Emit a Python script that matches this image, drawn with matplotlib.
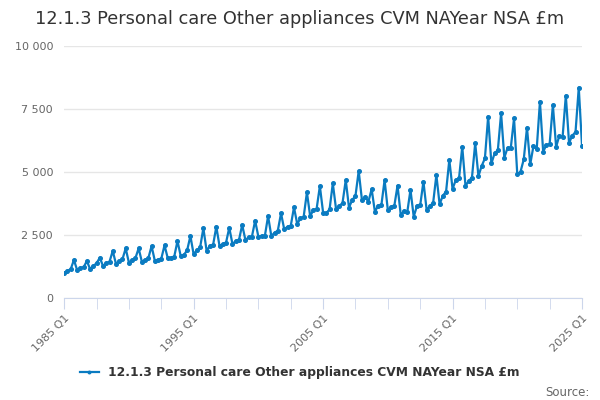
import matplotlib
matplotlib.use('Agg')
import matplotlib.pyplot as plt
from matplotlib.ticker import FuncFormatter, MultipleLocator

# quarterly values, 1985 Q1 .. 2025 Q1
q1 = [980, 1110, 1150, 1270, 1350, 1400, 1440, 1480, 1580, 1670,
      1730, 1880, 2060, 2140, 2300, 2430, 2460, 2720, 2940, 3250,
      3390, 3530, 3590, 3890, 3430, 3490, 3290, 3230, 3490, 3720,
      4330, 4450, 4840, 5340, 5570, 4910, 5300, 5810, 6000, 6160, 6050]
q2 = [1080, 1200, 1270, 1380, 1470, 1510, 1510, 1510, 1600, 1710,
      1900, 2060, 2140, 2260, 2410, 2470, 2590, 2830, 3160, 3490,
      3370, 3650, 3890, 4000, 3660, 3610, 3450, 3650, 3650, 4060,
      4680, 4640, 5240, 5740, 5960, 5010, 6030, 6070, 6440, 6440]
q3 = [1140, 1220, 1380, 1440, 1540, 1580, 1580, 1560, 1640, 1900,
      2010, 2100, 2190, 2300, 2430, 2460, 2670, 2860, 3230, 3540,
      3520, 3770, 4050, 3820, 3680, 3650, 3400, 3680, 3770, 4220,
      4750, 4780, 5540, 5870, 5960, 5500, 5900, 6110, 6380, 6590]
q4 = [1510, 1470, 1600, 1870, 1970, 1970, 2060, 2090, 2260, 2460,
      2770, 2830, 2790, 2900, 3070, 3250, 3360, 3600, 4190, 4440,
      4550, 4680, 5040, 4320, 4680, 4460, 4290, 4620, 4880, 5480,
      6000, 6140, 7200, 7330, 7130, 6760, 7790, 7660, 8030, 8350]

values = []
for i in range(len(q1)):
    for s in (q1, q2, q3, q4):
        if i < len(s):
            values.append(s[i])

labels = ['%d Q1' % y for y in range(1985, 2026, 10)]
title = '12.1.3 Personal care Other appliances CVM NAYear NSA £m'
blue = '#0a7bc1'

fig = plt.figure(figsize=(6, 4), dpi=100)
ax = fig.add_axes([0.107, 0.255, 0.863, 0.63])

x = range(len(values))
ax.plot(x, values, color=blue, lw=1.6, marker='o', ms=2.6, label=title)

ax.set_xlim(0, len(values) - 1)
ax.set_ylim(0, 10000)
ax.yaxis.set_major_locator(MultipleLocator(2500))
ax.yaxis.set_major_formatter(FuncFormatter(lambda v, p: '{:,}'.format(int(v)).replace(',', ' ')))
ax.set_xticks(range(0, len(values), 40))
ax.set_xticklabels(labels, rotation=45, ha='right', rotation_mode='anchor')
ax.xaxis.set_minor_locator(MultipleLocator(10))

ax.grid(axis='y', color='#e6e6e6', lw=1)
ax.set_axisbelow(True)
for s in ['top', 'right', 'left']:
    ax.spines[s].set_visible(False)
ax.spines['bottom'].set_color('#ccd6eb')
ax.tick_params(axis='x', which='both', length=8, color='#ccd6eb', labelsize=8, labelcolor='#666666', pad=3)
ax.tick_params(axis='y', length=0, labelsize=8, labelcolor='#666666', pad=8)

fig.suptitle(title, x=0.5, y=0.975, fontsize=12.8, color='#333333')
fig.legend(loc='center', bbox_to_anchor=(0.5, 0.068), frameon=False,
           prop={'size': 8.8, 'weight': 'bold'}, handlelength=1.5, markerscale=0.7,
           labelcolor='#333333')
fig.text(0.983, 0.02, 'Source:', ha='right', va='center', fontsize=8.5, color='#666666')

fig.savefig('out.png', dpi=100)
